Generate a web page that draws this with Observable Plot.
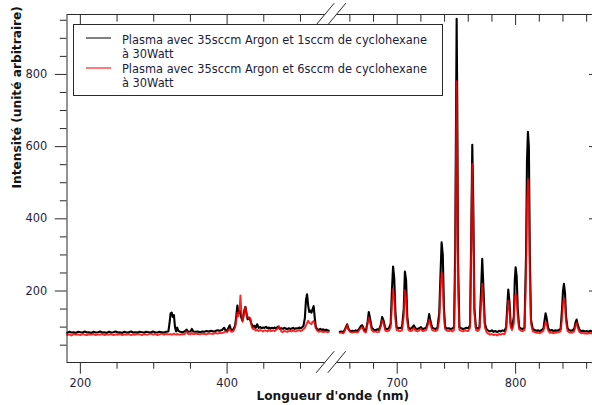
<!DOCTYPE html>
<html><head><meta charset="utf-8">
<script src="https://cdn.jsdelivr.net/npm/d3@7"></script>
<script src="https://cdn.jsdelivr.net/npm/@observablehq/plot@0.6"></script>
<style>
body{margin:0;background:#fff;}
#wrap{position:relative;width:592px;height:405px;overflow:hidden;background:#fff;}
#legend{position:absolute;left:72.5px;top:24px;width:370px;height:72px;border:1px solid #2a2a2a;background:#fff;box-sizing:border-box;font-family:"DejaVu Sans",sans-serif;font-size:11.4px;color:#1c1c3c;}
.sw{position:absolute;left:12px;width:25px;height:2px;}
.lt{position:absolute;left:48.5px;line-height:14.3px;white-space:pre;}
</style></head><body><div id="wrap"></div>
<script>
// ---- data ----
const seriesLabels = [
  "Plasma avec 35sccm Argon et 1sccm de cyclohexane\nà 30Watt",
  "Plasma avec 35sccm Argon et 6sccm de cyclohexane\nà 30Watt"
];
const xTitle = "Longueur d'onde (nm)";
const yTitle = "Intensité (unité arbitraire)";

const wavelengthsLeft = [
  182,185,188,191,194,197,200,203,206,209,
  212,215,218,221,224,227,230,233,236,239,
  242,245,248,251,254,257,260,263,266,269,
  272,275,278,281,284,287,290,293,296,299,
  302,305,308,311,314,317,320,321.5,323,324.5,
  326,327.5,329,330.5,332,333.5,336,339,342,345,
  347,350,352,354,357,360,363,366,369,372,
  375,378,381,384,387,390,393,396,398,400,
  402,403.5,405,407,409,411,412.5,414,415.5,417,
  418.2,419.5,421,422.5,424,425,426.5,428,430,431.8,
  433.5,435,437,439,441,443,445,447,449,451,
  453,455,457,459,461,463,465,467,469,470.5,
  472,474,476,478,480,482,484,486,488,490,
  492,494,496,498,500,502,504,506,507.5,509,
  510.5,512,513.5,515,516.5,518,519.5,521,523,525,
  527,529,531,533,535,537,538.5
];
const black1sccmLeft = [
  84,87,85,86,84,87,86,85,88,85,
  86,84,87,85,86,88,85,86,84,87,
  85,86,88,85,86,84,87,85,86,88,
  85,86,85,87,86,85,87,86,85,88,
  86,85,87,86,85,87,88,110,138,140,
  128,133,100,88,99,90,87,86,88,93,
  87,88,95,88,87,88,86,88,87,89,
  88,90,88,89,91,90,92,98,91,90,
  98,105,94,92,95,105,130,160,138,145,
  140,125,118,135,150,156,138,122,126,118,
  108,100,104,98,108,98,100,97,99,98,
  101,97,99,96,98,97,99,96,101,99,
  95,97,95,98,96,94,97,95,96,98,
  95,97,96,99,97,99,103,125,175,191,
  160,142,146,140,150,158,125,100,94,92,
  95,92,94,91,93,91,90
];
const red6sccmLeft = [
  78,80,77,81,79,80,78,81,79,78,
  80,79,81,78,80,79,81,78,80,79,
  81,78,80,79,81,78,80,79,81,78,
  80,79,81,80,78,81,79,80,82,79,
  81,78,80,82,79,81,80,80,81,79,
  80,82,80,79,81,80,79,81,80,88,
  81,80,84,80,82,81,80,82,81,80,
  83,82,81,84,82,84,83,86,88,86,
  92,95,88,87,90,100,120,140,130,150,
  188,140,115,130,145,156,135,128,124,125,
  102,95,95,90,93,89,92,90,88,91,
  90,88,92,89,90,91,89,93,97,103,
  96,88,86,90,88,87,89,90,88,91,
  89,88,90,92,89,91,94,98,105,112,
  118,112,110,108,115,117,110,96,90,87,
  89,88,86,88,87,86,87
];

const wavelengthsRight = [
  651.5,653,654.5,656,657.7,659,660.5,662,663.5,665,
  666.5,668,669.5,670.5,672,673.5,675,676,677,678.5,
  680,681.5,683,684.5,686,687.3,688.5,690,691.5,693,
  694.5,695.5,696.5,697.5,698.5,699.5,701,702.5,704,705.5,
  706.5,707.5,708.5,709.5,711,712.5,714,715.5,717,718.5,
  720,721.5,723,724.5,726,727,728,729.5,731,732.5,
  734,735.5,736.5,737.5,738.5,739.5,740.5,742,743.5,745,
  746.5,748,749,749.7,750.2,750.7,751.4,752.5,754,755.5,
  757,758.5,760,761.5,762.5,763.4,764.2,765.2,766.5,768,
  769.5,770.8,771.8,772.8,774,775.5,777,778.5,780,781.5,
  783,784.5,786,787.5,789,790.5,792,793,793.8,794.8,
  795.8,797,798.5,799.3,800,800.9,801.8,803,804.5,806,
  807.5,808.8,809.6,810.4,811.2,812,813,814.5,816,817.5,
  819,820.5,822,823.5,824.5,825.3,826.2,827.5,829,830.5,
  832,833.5,835,836.5,838,839.2,840,840.8,841.7,842.6,
  843.8,845,846.5,848,849.5,850.5,851.5,852.5,854,855.5,
  857,858.5,860,861.5,863,864.5,866,868,870
];
const black1sccmRight = [
  87,88,86,95,108,94,88,90,88,91,
  89,96,104,105,93,89,115,142,125,98,
  93,91,94,92,105,128,118,96,94,97,
  110,200,268,235,140,100,96,98,97,150,
  254,230,130,100,95,98,105,96,95,97,
  100,94,96,98,115,136,118,98,96,95,
  98,140,240,335,300,150,100,96,97,95,
  96,100,320,700,954,720,280,100,97,95,
  96,98,97,105,350,605,450,150,98,96,
  100,200,289,210,110,94,90,88,91,87,
  89,86,90,88,91,89,100,160,204,170,
  110,98,130,230,266,240,150,100,96,95,
  98,300,560,641,600,300,120,95,92,90,
  91,89,92,96,120,138,125,97,90,92,
  89,91,90,92,95,150,200,220,195,130,
  98,92,90,91,95,112,121,106,92,89,
  90,88,89,87,90,88,89,88,89
];
const red6sccmRight = [
  84,85,83,92,106,92,86,85,87,86,
  85,92,98,100,88,85,110,127,115,92,
  87,88,86,87,100,119,110,90,88,90,
  100,160,206,180,120,92,90,89,91,130,
  202,180,115,92,89,90,98,90,88,91,
  95,89,90,92,108,121,108,92,90,89,
  92,120,200,252,230,130,94,90,89,91,
  88,92,260,600,781,600,220,92,90,88,
  91,90,89,98,320,553,400,140,92,89,
  94,160,220,170,100,85,82,79,81,78,
  80,77,81,79,82,80,92,140,174,150,
  100,92,110,180,193,175,130,94,90,89,
  92,250,440,510,480,240,110,88,86,84,
  85,83,86,90,105,115,108,90,84,85,
  83,84,85,86,88,125,165,179,165,115,
  90,86,84,85,88,105,112,98,86,83,
  84,82,83,82,84,82,83,82,83
];

const xMajorTicks = [200, 400, 700, 800];
const xMinorTicks = [250, 300, 350, 450, 500, 660, 680, 720, 740, 760, 780, 820, 840, 860];
const yMajorTicks = [200, 400, 600, 800];
const yMinorTicks = [50,100,150,250,300,350,450,500,550,650,700,750,850,900,950];
const xDomain = [181.8, 542.3, 644.5, 870];   // broken axis: left piece, right piece
const breakNm = 600;                          // any value inside the gap
const yDomain = [2, 966];

// ---- layout ----
const width = 592, height = 405;
const marginLeft = 66.5, marginTop = 14, marginBottom = 43, marginRight = -6;
const breakPx = 331;
const ink = "#1c1c3c";

const rows = (wl, vals) => wl.map((w, i) => ({nm: w, v: vals[i]}));
const blackL = rows(wavelengthsLeft, black1sccmLeft);
const blackR = rows(wavelengthsRight, black1sccmRight);
const redL = rows(wavelengthsLeft, red6sccmLeft);
const redR = rows(wavelengthsRight, red6sccmRight);

function breakMarks(index, scales, values, dims) {
  const bx = scales.x(breakNm);
  const g = d3.create("svg:g");
  const hw = 9, hh = 10.8, off = 5.8;
  for (const y0 of [dims.marginTop, dims.height - dims.marginBottom]) {
    g.append("path")
      .attr("d", `M${bx-off-hw},${y0+hh}L${bx-off+hw},${y0-hh}L${bx+off+hw},${y0-hh}L${bx+off-hw},${y0+hh}Z`)
      .attr("fill", "white");
    for (const o of [-off, off]) {
      g.append("line")
        .attr("x1", bx+o-hw).attr("y1", y0+hh)
        .attr("x2", bx+o+hw).attr("y2", y0-hh)
        .attr("stroke", "#2a2a2a").attr("stroke-width", 1);
    }
  }
  return g.node();
}

const noText = () => "";
const lineOpts = {x: "nm", y: "v", strokeLinejoin: "round"};
const chart = Plot.plot({
  width, height, marginLeft, marginRight, marginTop, marginBottom,
  style: {fontFamily: "'DejaVu Sans', sans-serif", fontSize: "11.4px", color: ink, background: "white"},
  x: {type: "linear", domain: xDomain, range: [marginLeft, breakPx, breakPx, width - marginRight], axis: null},
  y: {domain: yDomain, axis: null},
  marks: [
    Plot.line(blackL, {...lineOpts, stroke: "#000", strokeWidth: 2.1}),
    Plot.line(blackR, {...lineOpts, stroke: "#000", strokeWidth: 2.1}),
    Plot.line(redL, {...lineOpts, stroke: "#f00", strokeWidth: 1.9, strokeOpacity: 0.85}),
    Plot.line(redR, {...lineOpts, stroke: "#f00", strokeWidth: 1.9, strokeOpacity: 0.85}),
    Plot.frame({stroke: "#2a2a2a"}),
    breakMarks,
    Plot.axisX({ticks: xMinorTicks, anchor: "bottom", tickSize: 6.7, tickFormat: noText, label: null, stroke: "#2a2a2a"}),
    Plot.axisX({ticks: xMajorTicks, anchor: "bottom", tickSize: 11.7, tickPadding: 5, label: null, stroke: "#2a2a2a"}),
    Plot.axisX({ticks: xMinorTicks, anchor: "top", tickSize: -6.7, tickFormat: noText, label: null, stroke: "#2a2a2a"}),
    Plot.axisX({ticks: xMajorTicks, anchor: "top", tickSize: -10, tickFormat: noText, label: null, stroke: "#2a2a2a"}),
    Plot.axisY({ticks: yMinorTicks, anchor: "left", tickSize: 6.7, tickFormat: noText, label: null, stroke: "#2a2a2a"}),
    Plot.axisY({ticks: yMajorTicks, anchor: "left", tickSize: 11.7, tickPadding: 8, label: null, stroke: "#2a2a2a"}),
    Plot.axisY({ticks: yMinorTicks, anchor: "right", tickSize: -6.7, tickFormat: noText, label: null, stroke: "#2a2a2a"}),
    Plot.axisY({ticks: yMajorTicks, anchor: "right", tickSize: -10, tickFormat: noText, label: null, stroke: "#2a2a2a"}),
    Plot.text([xTitle], {text: d => d, frameAnchor: "bottom", dy: 37.5, fontWeight: "bold", fontSize: 12.2, fill: "#151515"}),
    Plot.text([yTitle], {text: d => d, frameAnchor: "left", rotate: -90, dx: -50, fontWeight: "bold", fontSize: 12.2, fill: "#151515"})
  ]
});

const wrap = document.getElementById("wrap");
wrap.appendChild(chart);

// legend (inside the plot area, as in the reference)
const legend = document.createElement("div");
legend.id = "legend";
const swatchColors = ["#808080", "#ff7a7a"];
const swatchTops = [12.3, 41.7];
const textTops = [8, 37.2];
seriesLabels.forEach((lab, i) => {
  const sw = document.createElement("div");
  sw.className = "sw";
  sw.style.top = swatchTops[i] + "px";
  sw.style.background = swatchColors[i];
  legend.appendChild(sw);
  const t = document.createElement("div");
  t.className = "lt";
  t.style.top = textTops[i] + "px";
  t.textContent = lab;
  legend.appendChild(t);
});
wrap.appendChild(legend);
</script></body></html>
